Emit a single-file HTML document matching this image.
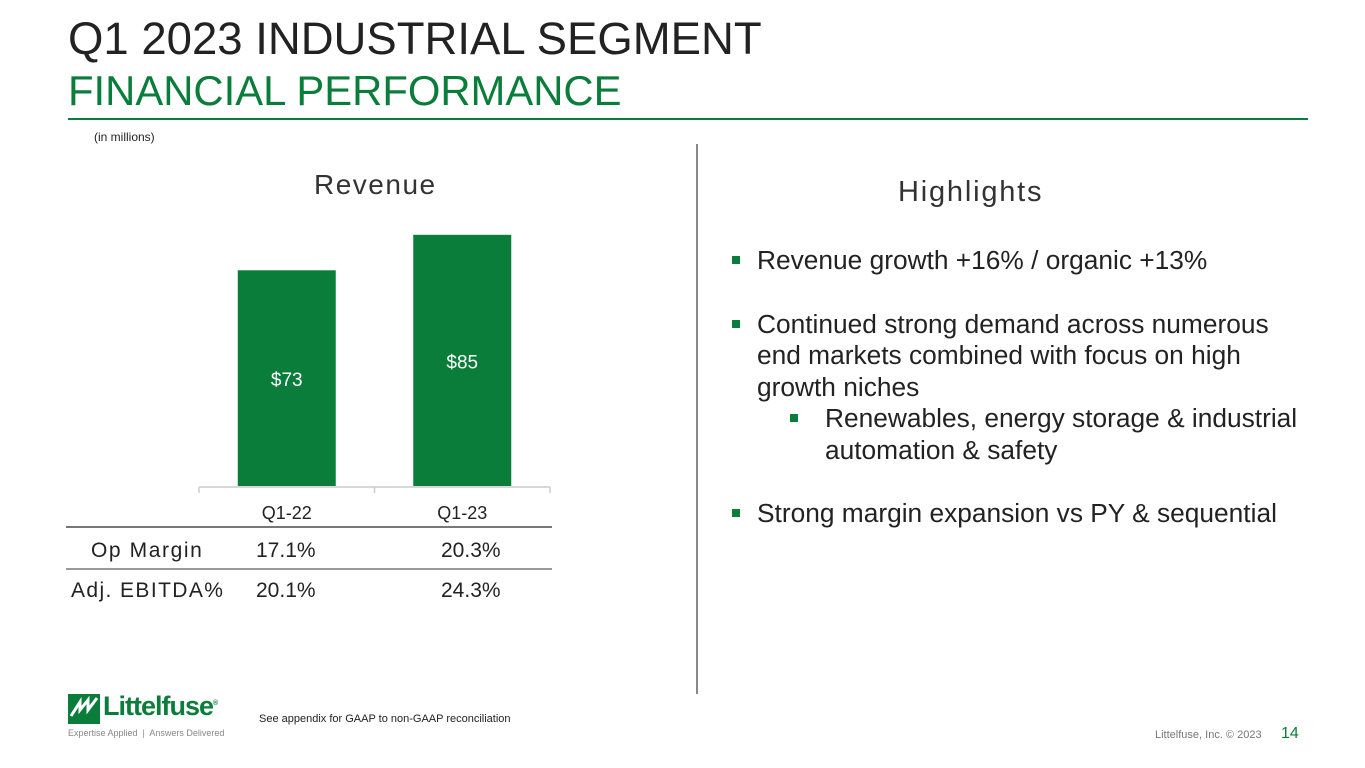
<!DOCTYPE html>
<html><head><meta charset="utf-8"><style>
body{margin:0;width:1365px;height:768px;position:relative;background:#fff;font-family:"Liberation Sans",sans-serif;overflow:hidden}
.a{position:absolute;white-space:nowrap}
.g{color:#0a7d3b}
</style></head><body>
<div class="a" style="left:68px;top:13px;font-size:45.5px;color:#222">Q1 2023 INDUSTRIAL SEGMENT</div>
<div class="a g" style="left:68px;top:67px;font-size:41.8px">FINANCIAL PERFORMANCE</div>
<div class="a" style="left:68px;top:118px;width:1240px;height:2px;background:#0a7d3b"></div>
<div class="a" style="left:94px;top:130px;font-size:12px;color:#222">(in millions)</div>
<div class="a" style="left:314px;top:169px;font-size:28px;color:#333;letter-spacing:1.5px">Revenue</div>
<svg class="a" style="left:0;top:0" width="700" height="620" id="chart"></svg>
<div class="a" style="left:66px;top:526px;width:486px;height:2px;background:#777"></div>
<div class="a" style="left:66px;top:568px;width:486px;height:2px;background:#999"></div>
<div class="a" style="left:91px;top:539px;font-size:21px;color:#222;letter-spacing:1.6px">Op Margin</div>
<div class="a" style="left:256px;top:539px;font-size:21px;color:#222">17.1%</div>
<div class="a" style="left:441px;top:539px;font-size:21px;color:#222">20.3%</div>
<div class="a" style="left:71px;top:579px;font-size:21px;color:#222;letter-spacing:1.4px">Adj. EBITDA%</div>
<div class="a" style="left:256px;top:579px;font-size:21px;color:#222">20.1%</div>
<div class="a" style="left:441px;top:579px;font-size:21px;color:#222">24.3%</div>
<div class="a" style="left:696px;top:144px;width:2px;height:550px;background:#888"></div>
<div class="a" style="left:898px;top:176px;font-size:29px;color:#333;letter-spacing:1.8px">Highlights</div>
<div class="a" style="left:730px;top:245px;font-size:26.3px;line-height:31.5px;color:#222">
<div style="position:relative;padding-left:27px"><span style="position:absolute;left:2px;top:11px;width:8px;height:8px;background:#0a7d3b"></span>Revenue growth +16% / organic +13%</div>
<div style="height:32px"></div>
<div style="position:relative;padding-left:27px"><span style="position:absolute;left:2px;top:11px;width:8px;height:8px;background:#0a7d3b"></span>Continued strong demand across numerous<br>end markets combined with focus on high<br>growth niches</div>
<div style="position:relative;padding-left:95px"><span style="position:absolute;left:60px;top:11px;width:8px;height:8px;background:#0a7d3b"></span>Renewables, energy storage &amp; industrial<br>automation &amp; safety</div>
<div style="height:32px"></div>
<div style="position:relative;padding-left:27px"><span style="position:absolute;left:2px;top:11px;width:8px;height:8px;background:#0a7d3b"></span>Strong margin expansion vs PY &amp; sequential</div>
</div>
<div class="a" style="left:68px;top:694px">
<svg width="32" height="30" style="position:absolute;left:0;top:0"><rect width="32" height="30" fill="#0a7d3b"/><path d="M3 22 L12 8 L12 16 L20 6 L20 16 L29 4" stroke="#fff" stroke-width="3" fill="none"/></svg>
<div class="a" style="left:35px;top:-3px;font-size:27px;font-weight:bold;color:#0a7d3b;letter-spacing:-1px">Littelfuse<sup style="font-size:7px">®</sup></div>
<div class="a" style="left:0;top:34px;font-size:9px;color:#888">Expertise Applied &nbsp;|&nbsp; Answers Delivered</div>
</div>
<div class="a" style="left:259px;top:713px;font-size:11px;color:#222">See appendix for GAAP to non-GAAP reconciliation</div>
<div class="a" style="left:1155px;top:729px;font-size:11px;color:#777">Littelfuse, Inc. © 2023</div>
<div class="a g" style="left:1281px;top:725px;font-size:16px">14</div>
<script>
const categories=["Q1-22","Q1-23"];
const revenue=[73,85];
const labels=["$73","$85"];
const svg=document.getElementById('chart');
const NS="http://www.w3.org/2000/svg";
const base=486, scale=2.955, x0=199, band=175.5, bw=98;
const y=v=>base-v*scale;
function mk(t,a){const e=document.createElementNS(NS,t);for(const k in a)e.setAttribute(k,a[k]);svg.appendChild(e);return e;}
categories.forEach((c,i)=>{
 const cx=x0+band*(i+0.5);
 const r=mk('rect',{x:cx-bw/2,y:y(revenue[i]),width:bw,height:revenue[i]*scale,fill:'#0a7d3b'});
 
 
 const t=mk('text',{x:cx,y:(y(revenue[i])+base)/2+8,'text-anchor':'middle','font-size':19,fill:'#fff','font-family':'Liberation Sans'});
 t.textContent=labels[i];
 
 
 const l=mk('text',{x:cx,y:519,'text-anchor':'middle','font-size':18,fill:'#222','font-family':'Liberation Sans'});
 l.textContent=c;
 
 
});
const ax=mk('line',{x1:x0,y1:base+1,x2:x0+band*2,y2:base+1,stroke:'#ccc','stroke-width':1.5});


for(let i=0;i<=categories.length;i++){
 const tk=mk('line',{x1:x0+band*i,y1:base+1,x2:x0+band*i,y2:base+7,stroke:'#ccc','stroke-width':1.5});
 
 
}
</script>
</body></html>
